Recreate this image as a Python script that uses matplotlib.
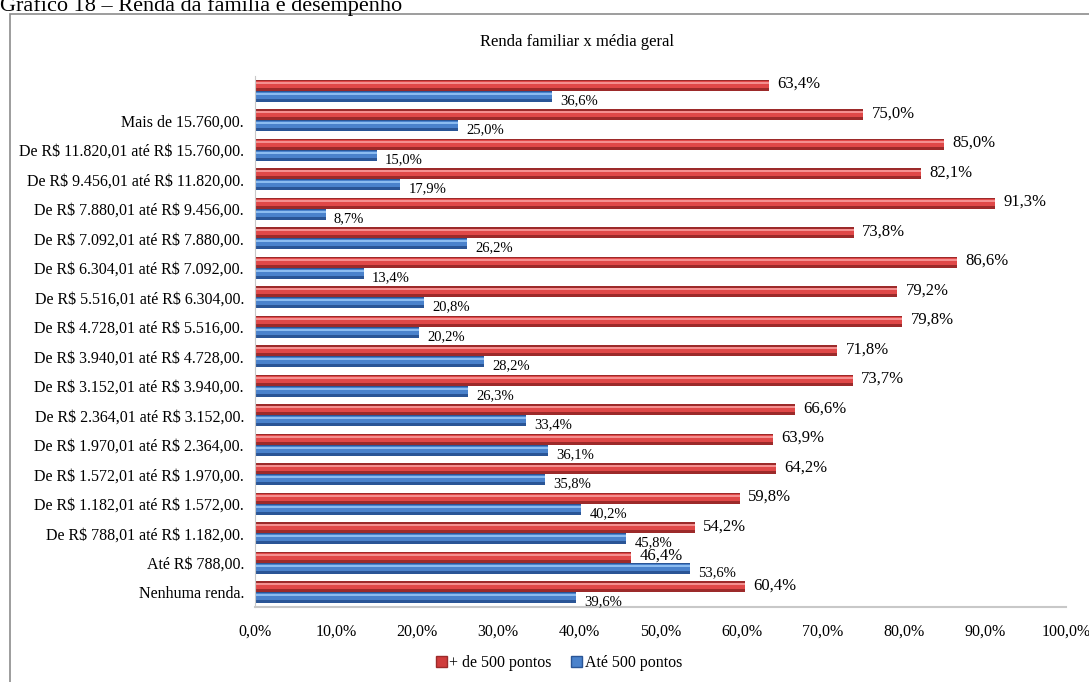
import numpy as np
import matplotlib
matplotlib.use('Agg')
import matplotlib.pyplot as plt
from matplotlib.patches import Patch, Rectangle

plt.rcParams['font.family'] = ['Liberation Serif', 'DejaVu Serif']

# dados (de baixo para cima)
faixas = [
    'Nenhuma renda.',
    'Até R$ 788,00.',
    'De R$ 788,01 até R$ 1.182,00.',
    'De R$ 1.182,01 até R$ 1.572,00.',
    'De R$ 1.572,01 até R$ 1.970,00.',
    'De R$ 1.970,01 até R$ 2.364,00.',
    'De R$ 2.364,01 até R$ 3.152,00.',
    'De R$ 3.152,01 até R$ 3.940,00.',
    'De R$ 3.940,01 até R$ 4.728,00.',
    'De R$ 4.728,01 até R$ 5.516,00.',
    'De R$ 5.516,01 até R$ 6.304,00.',
    'De R$ 6.304,01 até R$ 7.092,00.',
    'De R$ 7.092,01 até R$ 7.880,00.',
    'De R$ 7.880,01 até R$ 9.456,00.',
    'De R$ 9.456,01 até R$ 11.820,00.',
    'De R$ 11.820,01 até R$ 15.760,00.',
    'Mais de 15.760,00.',
    '',
]
mais_500 = [60.4, 46.4, 54.2, 59.8, 64.2, 63.9, 66.6, 73.7, 71.8, 79.8,
            79.2, 86.6, 73.8, 91.3, 82.1, 85.0, 75.0, 63.4]
ate_500 = [39.6, 53.6, 45.8, 40.2, 35.8, 36.1, 33.4, 26.3, 28.2, 20.2,
           20.8, 13.4, 26.2, 8.7, 17.9, 15.0, 25.0, 36.6]

fig = plt.figure(figsize=(10.89, 6.82), dpi=100)

# moldura externa
fig.patches.append(Rectangle((10/1089, -0.1), 1.2, 1.1 - 14/682,
                             transform=fig.transFigure, fill=False,
                             edgecolor='#8c8c8c', linewidth=1.2))

fig.text(0, 1 - 11/682, 'Gráfico 18 – Renda da família e desempenho',
         fontsize=16, ha='left', va='baseline')

ax = fig.add_axes([255/1089, 1 - 607/682, 811/1089, 531/682])

y = np.arange(len(faixas))
h = 0.37
off = 0.185

def barra_3d(ypos, vals, escuro, medio, claro):
    ax.barh(ypos, vals, height=h, color=escuro, edgecolor='none')
    ax.barh(ypos + h * 0.08, vals, height=h * 0.62, color=medio, edgecolor='none')
    ax.barh(ypos + h * 0.22, vals, height=h * 0.18, color=claro, edgecolor='none')

barra_3d(y + off, mais_500, '#9c2a2a', '#e04848', '#f49090')
barra_3d(y - off, ate_500, '#2a5596', '#4a82cc', '#8cbcf0')

for yi, v in zip(y, mais_500):
    ax.annotate(f'{v:.1f}%'.replace('.', ','), (v, yi + off), xytext=(6, 1),
                textcoords='offset points', va='center', ha='left', fontsize=12)
for yi, v in zip(y, ate_500):
    ax.annotate(f'{v:.1f}%'.replace('.', ','), (v, yi - off), xytext=(6, -3),
                textcoords='offset points', va='center', ha='left', fontsize=10.5)

ax.set_xlim(0, 100)
ax.set_ylim(-0.5, len(faixas) - 0.5)
ax.set_yticks(y)
ax.set_yticklabels([f.replace('$', r'\$') for f in faixas], fontsize=11.5)
ax.set_xticks(np.arange(0, 101, 10))
ax.set_xticklabels([f'{t:.1f}%'.replace('.', ',') for t in np.arange(0, 101, 10)], fontsize=11.5)
ax.tick_params(axis='both', length=0)
ax.tick_params(axis='x', pad=12)
ax.tick_params(axis='y', pad=8)
for s in ['top', 'right']:
    ax.spines[s].set_visible(False)
ax.spines['left'].set_color('#c8c8c8')
ax.spines['bottom'].set_color('#c8c8c8')
ax.spines['bottom'].set_linewidth(1.5)
ax.patch.set_alpha(0)

fig.text(577/1089, 1 - 42/682, 'Renda familiar x média geral', fontsize=12,
         ha='center', va='center')

handles = [Patch(facecolor='#d03c3c', edgecolor='#9c2a2a', label='+ de 500 pontos'),
           Patch(facecolor='#4a82cc', edgecolor='#2a5596', label='Até 500 pontos')]
fig.legend(handles=handles, loc='center', bbox_to_anchor=(559/1089, 1 - 663/682),
           ncol=2, frameon=False, fontsize=11.5, handlelength=0.7, handleheight=0.7,
           handletextpad=0.15, columnspacing=1.2)

fig.savefig('out.png', dpi=100)
